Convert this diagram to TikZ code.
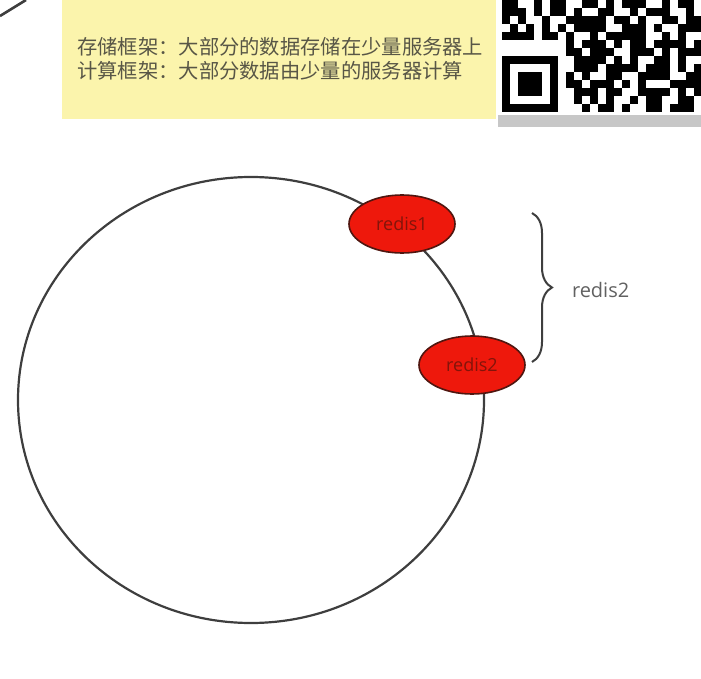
\documentclass[tikz,border=0pt]{standalone}
\usepackage{fontspec}
\newfontfamily\cjk{Noto Sans CJK SC}
\newfontfamily\osans{Open Sans}
\usetikzlibrary{shapes.geometric,decorations.pathreplacing}
\definecolor{pad}{RGB}{251,244,172}
\definecolor{ink}{RGB}{88,86,70}
\definecolor{rd}{RGB}{238,24,12}
\definecolor{rdline}{RGB}{80,22,16}
\definecolor{rdtext}{RGB}{130,20,10}
\definecolor{ringc}{RGB}{62,62,62}
\tikzset{
    EL/.style ={ellipse,minimum width = 106pt, minimum height = 58pt, inner sep=0pt, draw=rdline, line width=1.6pt, fill=rd, text=rdtext, font=\osans\fontsize{18}{20}\selectfont},
    TX/.style ={anchor=west, inner sep=0pt, text=ink, font=\cjk\fontsize{20.3}{24}\selectfont},
    LB/.style ={anchor=west, inner sep=0pt, text=black!62, font=\osans\fontsize{20}{22}\selectfont},
    RG/.style ={draw=ringc, line width=2.2pt},
    QM/.style ={fill=black}}

\begin{document}
\begin{tikzpicture}[x=1pt,y=-1pt]
        \useasboundingbox (0,0) rectangle (701,679);
        % note
        \fill[pad] (62,0) rectangle (496,119);
        \node[TX] (l1) at (77,47) {存储框架：大部分的数据存储在少量服务器上};
        \node[TX] (l2) at (77,71) {计算框架：大部分数据由少量的服务器计算};
        % qr code
        \fill[black!22] (498,115) rectangle (701,127);
        \fill (502,56) rectangle (558,112);
        \fill[white] (510,64) rectangle (550,104);
        \fill (518,72) rectangle (542,96);
        \foreach \r/\cs in {0/{0,1,4,6,7,10,11,13,15,16,17,20,22,23},
                            1/{0,1,2,4,6,7,9,12,13,16,18,19,20,23},
                            2/{0,2,5,8,9,10,11,12,14,15,17,20,21,23,24},
                            3/{1,3,5,7,9,10,11,12,15,16,17,19,22,23,24},
                            4/{0,1,2,3,5,6,8,11,13,14,15,16,17,20,22},
                            5/{8,10,11,12,14,16,17,19,20,21,22,24},
                            6/{8,9,11,12,13,16,17,18,20,22,23,24},
                            7/{9,10,11,12,14,16,19,20,22},
                            8/{9,10,11,13,14,15,16,18,19,20,22,24},
                            9/{8,10,13,14,17,18,19,20,23,24},
                            10/{8,9,11,12,13,15,17,21,22,23,24},
                            11/{9,10,11,13,14,17,18,19,20,22,24},
                            12/{9,11,13,16,18,19,22,23},
                            13/{10,12,13,15,18,19,21,22,23}}{
            \foreach \c in \cs {\fill[QM] (502+8*\c,8*\r) rectangle +(8,8);}}
        % ring
        \draw[RG] (251,400) ellipse [x radius=233, y radius=223];
        \node[EL] (r1) at (402,224) {redis1};
        \node[EL] (r2) at (472,365) {redis2};
        % brace
        \coordinate (bt) at (532,213);
        \coordinate (bb) at (532,362);
        \draw[RG, line width=2pt, decorate, decoration={brace, amplitude=20pt}] (bt) -- (bb)
            node[midway, right=39pt, yshift=-2pt, LB] (lb) {redis2};
        % corner
        \draw[RG, line width=2.6pt] (0,16) -- (26,0);
    \end{tikzpicture}
\end{document}
